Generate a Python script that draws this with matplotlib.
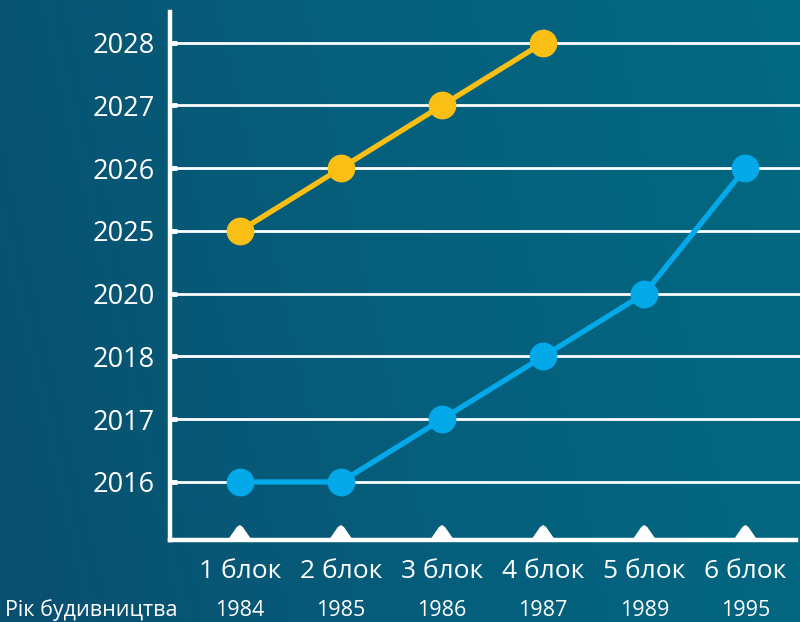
import matplotlib
matplotlib.use("Agg")
import matplotlib.pyplot as plt
import numpy as np
from matplotlib.colors import LinearSegmentedColormap

plt.rcParams['font.family'] = ['Open Sans', 'DejaVu Sans']

blocks = ["1 блок", "2 блок", "3 блок", "4 блок", "5 блок", "6 блок"]
build_years = ["1984", "1985", "1986", "1987", "1989", "1995"]
y_labels = ["2016", "2017", "2018", "2020", "2025", "2026", "2027", "2028"]
yellow_series = ["2025", "2026", "2027", "2028"]
blue_series = ["2016", "2016", "2017", "2018", "2020", "2026"]
row_label = "Рік будивництва"

W, H = 800, 622
fig = plt.figure(figsize=(W / 100, H / 100), dpi=100)

# background gradient
bg = fig.add_axes([0, 0, 1, 1])
gx = np.linspace(0, 1, 400)
gy = np.linspace(0, 1, 300)
GX, GY = np.meshgrid(gx, gy)
grad = np.clip(0.85 * GX + 0.15 * GY, 0, 1)
cmap = LinearSegmentedColormap.from_list("bg", ["#0a4f6f", "#055f7c", "#036983"])
bg.imshow(grad, cmap=cmap, aspect="auto", extent=[0, 1, 0, 1], origin="lower")
bg.set_axis_off()

ax = fig.add_axes([170 / W, 1 - 540 / H, 630 / W, 528 / H])
ax.set_facecolor("none")

xi = np.arange(len(blocks))
yidx = {v: i for i, v in enumerate(y_labels)}

x0, x1 = -0.69, 5.54
y0, y1 = -0.925, 7.49
ax.set_xlim(x0, x1)
ax.set_ylim(y0, y1)

for i in range(len(y_labels)):
    ax.axhline(i, color="white", lw=2.0, zorder=1)

ax.plot(xi[:len(yellow_series)], [yidx[v] for v in yellow_series], color="#f9bf15",
        lw=3.8, marker="o", ms=19, zorder=3, solid_capstyle="round")
ax.plot(xi, [yidx[v] for v in blue_series], color="#03a9e9",
        lw=3.8, marker="o", ms=19, zorder=3, solid_capstyle="round")

# triangles sitting on the x axis (size in pixels converted to data units)
ppx = 630 / (x1 - x0)   # pixels per x unit
ppy = 528 / (y1 - y0)   # pixels per y unit
shape = [(-12, 0), (-3, 13), (0, 15), (3, 13), (12, 0)]
for i in xi:
    verts = [(i + dx / ppx, y0 + dy / ppy) for dx, dy in shape]
    ax.fill([v[0] for v in verts], [v[1] for v in verts], color="white",
            lw=0, clip_on=False, zorder=6)

for s in ["top", "right"]:
    ax.spines[s].set_visible(False)
for s in ["left", "bottom"]:
    ax.spines[s].set_color("white")
    ax.spines[s].set_linewidth(3.2)
ax.spines["bottom"].set_bounds(x0, 5.5)

ax.set_yticks(range(len(y_labels)))
ax.set_yticklabels(y_labels)
ax.tick_params(axis="y", direction="in", length=5, width=3.5, colors="white",
               labelsize=19.5, pad=11)
ax.set_xticks([])

trans = ax.get_xaxis_transform()
for i, (b, yr) in enumerate(zip(blocks, build_years)):
    ax.text(i, -(571 - 540) / 528, b, transform=trans, ha="center", va="center",
            color="white", fontsize=19)
    ax.text(i, -(610 - 540) / 528, yr, transform=trans, ha="center", va="center",
            color="white", fontsize=15.5)
fig.text(5 / W, 1 - 610 / H, row_label, ha="left", va="center", color="white",
         fontsize=15.5)

fig.savefig("out.png", dpi=100)
